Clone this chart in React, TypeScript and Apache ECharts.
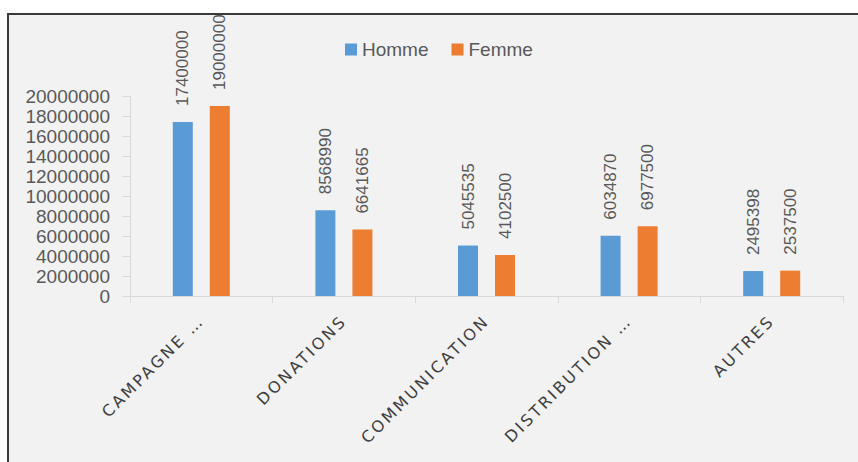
import React, { useEffect, useRef } from "react";
import * as echarts from "echarts";

const categories = ["CAMPAGNE …", "DONATIONS", "COMMUNICATION", "DISTRIBUTION …", "AUTRES"];
const homme = [17400000, 8568990, 5045535, 6034870, 2495398];
const femme = [19000000, 6641665, 4102500, 6977500, 2537500];
const seriesNames = ["Homme", "Femme"];

export default function App() {
  const ref = useRef<HTMLDivElement>(null);
  useEffect(() => {
    if (!ref.current) return;
    const chart = echarts.init(ref.current, undefined, { renderer: "svg" });
    const labelStyle = {
      show: true,
      position: "top" as const,
      rotate: 90,
      align: "left" as const,
      verticalAlign: "middle" as const,
      distance: 16,
      color: "#595959",
      fontSize: 17,
      fontFamily: "Liberation Sans",
    };
    chart.setOption({
      animation: false,
      backgroundColor: "transparent",
      legend: {
        top: 35,
        left: 340,
        itemWidth: 12,
        itemHeight: 12,
        itemGap: 23,
        icon: "rect",
        textStyle: { color: "#595959", fontSize: 19, fontFamily: "Liberation Sans" },
        data: seriesNames,
      },
      grid: { left: 130, right: 15, top: 96, bottom: 166 },
      xAxis: {
        type: "category",
        data: categories,
        axisLine: { show: true, lineStyle: { color: "#d9d9d9", width: 1 } },
        axisTick: { show: true, alignWithLabel: false, length: 7, lineStyle: { color: "#d9d9d9" } },
        axisLabel: {
          rotate: 45,
          interval: 0,
          margin: 22,
          color: "#3f3f3f",
          fontSize: 16,
          fontFamily: "DejaVu Sans",
        },
      },
      yAxis: {
        type: "value",
        min: 0,
        max: 20000000,
        interval: 2000000,
        splitLine: { show: false },
        axisLine: { show: true, lineStyle: { color: "#d9d9d9", width: 1 } },
        axisTick: { show: true, length: 7, lineStyle: { color: "#d9d9d9" } },
        axisLabel: {
          margin: 20,
          color: "#595959",
          fontSize: 19,
          fontFamily: "Liberation Sans",
          formatter: (v: number) => String(v),
        },
      },
      series: [
        {
          name: seriesNames[0],
          type: "bar",
          data: homme,
          barWidth: 20,
          barGap: "85%",
          itemStyle: { color: "#5b9bd5" },
          label: labelStyle,
        },
        {
          name: seriesNames[1],
          type: "bar",
          data: femme,
          barWidth: 20,
          itemStyle: { color: "#ed7d31" },
          label: labelStyle,
        },
      ],
    });
    return () => chart.dispose();
  }, []);
  return (
    <div style={{ position: "fixed", left: 0, top: 0, width: 858, height: 462, background: "#ffffff", overflow: "hidden" }}>
      <style>{`.chartbox text[style*="DejaVu"] { letter-spacing: 2.6px; }`}</style>
      <div
        style={{
          position: "absolute",
          left: 7,
          top: 13,
          width: 900,
          height: 500,
          background: "#f2f2f2",
          borderTop: "2px solid #3a3a3a",
          borderLeft: "2px solid #3a3a3a",
        }}
      />
      <div className="chartbox" ref={ref} style={{ position: "absolute", left: 0, top: 0, width: 858, height: 462 }} />
    </div>
  );
}
